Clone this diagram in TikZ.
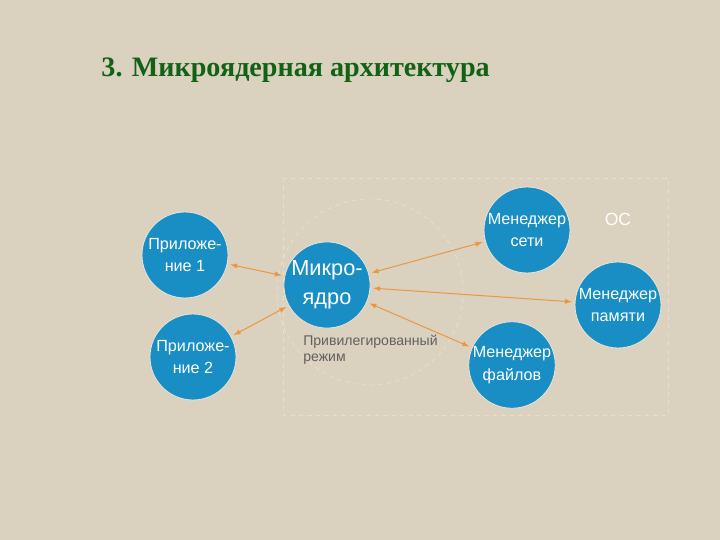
\documentclass[tikz,border=0pt]{standalone}
\usepackage{fontspec}
\setmainfont{Liberation Sans}
\newfontfamily\titlefont{Liberation Serif}
\usepackage{tikz}
\definecolor{linen}{RGB}{218,209,190}
\definecolor{modblue}{RGB}{24,142,196}
\definecolor{linkorange}{RGB}{236,150,62}
\definecolor{titlegreen}{RGB}{18,98,22}
\tikzstyle{module}=[circle, fill=modblue, draw=linen!60!white, line width=0.6pt, inner sep=0pt, minimum size=2.15cm, align=center, text=white, font=\fontsize{11.5}{16}\selectfont]
\tikzstyle{bigmodule}=[module, font=\fontsize{15.5}{20.5}\selectfont]
\tikzstyle{link}=[linkorange, line width=0.7pt, latex-latex, shorten >=2pt, shorten <=2pt]
\tikzstyle{frame}=[white, opacity=0.3, dashed, line width=0.6pt]

\begin{document}
\begin{tikzpicture}
        \fill[linen] (0, 0) rectangle (18, 13.5);
        \useasboundingbox (0, 0) rectangle (18, 13.5);
        \node[text=titlegreen, font=\titlefont\bfseries\fontsize{20}{24}\selectfont] (title) at (7.39, 11.75) {3. Микроядерная архитектура};
        \draw[frame] (7.075, 9.05) rectangle (16.7, 3.125);
        \draw[frame] (9.25, 6.2) circle (2.325);
        \node[module]    (app1)   at (4.625, 7.125)  {Приложе-\\ние 1};
        \node[module]    (app2)   at (4.825, 4.575)  {Приложе-\\ние 2};
        \node[bigmodule] (kernel) at (8.175, 6.375)  {Микро-\\ядро};
        \node[module]    (net)    at (13.175, 7.75)  {Менеджер\\сети};
        \node[module]    (mem)    at (15.45, 5.875)  {Менеджер\\памяти};
        \node[module]    (files)  at (12.8, 4.375)   {Менеджер\\файлов};
        \node[text=white, font=\fontsize{12.5}{15}\selectfont] (os) at (15.45, 8.025) {ОС};
        \node[anchor=north west, inner sep=0pt, align=left, text=black!62, font=\fontsize{10}{11.5}\selectfont] (priv) at (7.575, 5.125) {Привилегированный\\режим};
        \draw[link] (kernel) -- (app1);
        \draw[link] (kernel) -- (app2);
        \draw[link] (kernel) -- (net);
        \draw[link] (kernel) -- (mem);
        \draw[link] (kernel) -- (files);
    \end{tikzpicture}
\end{document}
